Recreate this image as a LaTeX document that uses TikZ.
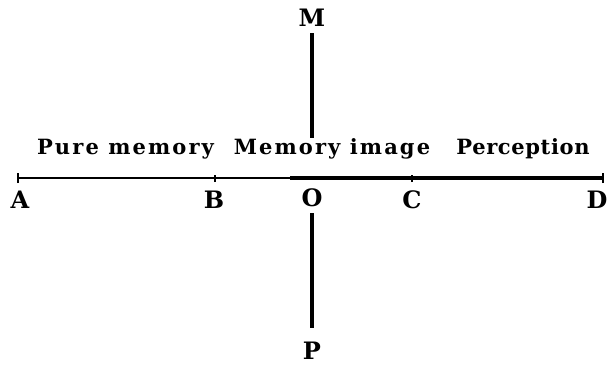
\documentclass[tikz,border=0pt]{standalone}
\usepackage{fontspec}
\setmainfont{DejaVu Serif}
\newfontfamily\ttlfont[LetterSpace=10]{DejaVu Serif}
\begin{document}
\begin{tikzpicture}[x=1pt,y=-1pt,
  lbl/.style={font=\fontsize{24}{26}\selectfont\bfseries, inner sep=0pt, anchor=base},
  ttl/.style={font=\ttlfont\fontsize{21}{23}\selectfont\bfseries, inner sep=0pt, anchor=base},
  thin/.style={line width=2.8pt},
  thick/.style={line width=3.6pt},
  tick/.style={line width=1.4pt}]
\useasboundingbox (0,0) rectangle (607,364);
% points on the line
\coordinate (a) at (18,178);
\coordinate (b) at (215,178);
\coordinate (q) at (290,178);
\coordinate (o) at (312,178);
\coordinate (c) at (412,178);
\coordinate (d) at (603,178);
\coordinate (mtop) at (312,33);
\coordinate (mbot) at (312,138);
\coordinate (ptop) at (312,213);
\coordinate (pbot) at (312,328);
% main line
\draw[thin] (a) -- (q);
\draw[thick] (q) -- (d);
\draw[tick] ([yshift=-5]a) -- ([yshift=5]a);
\draw[tick] ([yshift=-5]d) -- ([yshift=5]d);
\draw[tick] ([yshift=-4]b) -- ([yshift=3]b);
\draw[tick] ([yshift=-4]c) -- ([yshift=3]c);
% vertical lines
\draw[thick] (mtop) -- (mbot);
\draw[thick] (ptop) -- (pbot);
% letter labels
\node[lbl] (la) at (20,208) {A};
\node[lbl] (lb) at (214,208) {B};
\node[lbl] (lo) at (312,206) {O};
\node[lbl] (lc) at (412,208) {C};
\node[lbl] (ld) at (597,208) {D};
\node[lbl] (lm) at (312,27) {M};
\node[lbl] (lp) at (312,359) {P};
% segment titles
\node[ttl] (t1) at (125.5,154) {Pure memory};
\node[ttl] (t2) at (332,154) {Memory image};
\node[ttl] (t3) at (523,154) {\addfontfeature{LetterSpace=3}Perception};
\end{tikzpicture}
\end{document}
